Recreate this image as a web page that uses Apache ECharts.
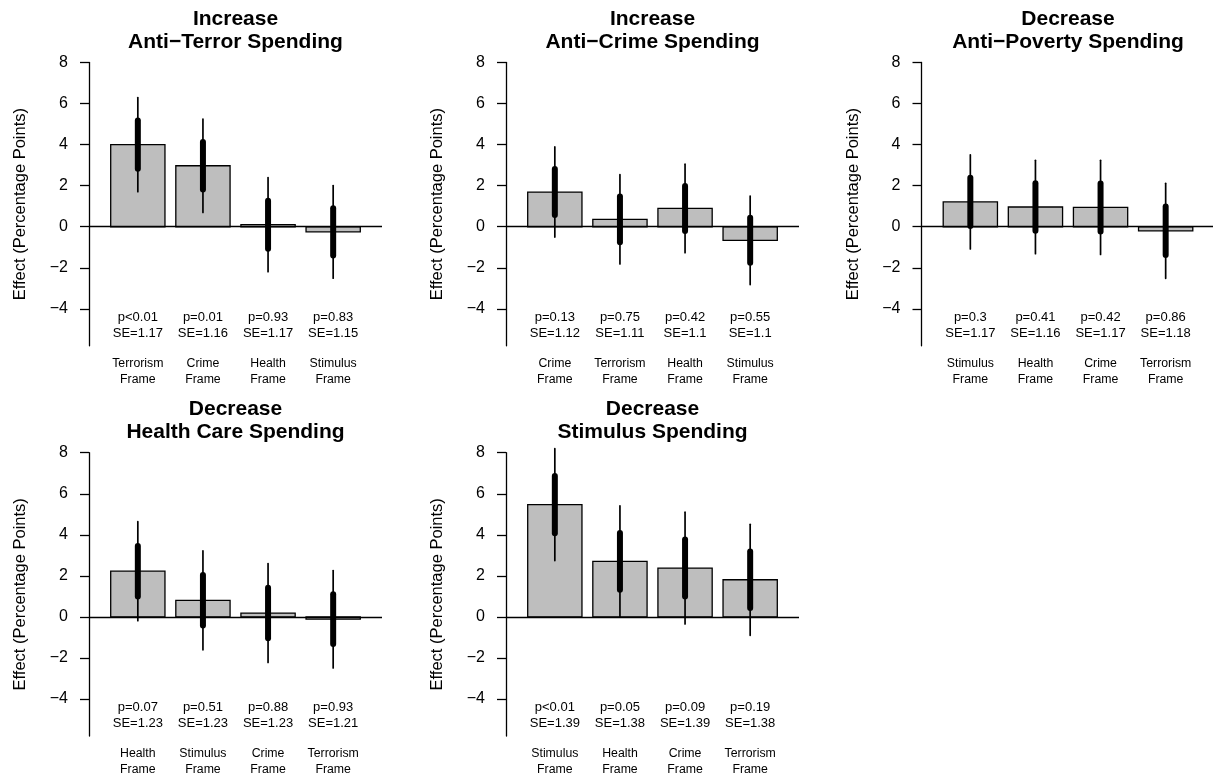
<!DOCTYPE html>
<html>
<head>
<meta charset="utf-8">
<title>Framing effects on spending preferences</title>
<script src="https://cdn.jsdelivr.net/npm/echarts@6/dist/echarts.min.js"></script>
<style>
  html, body { margin: 0; padding: 0; background: #fff; }
  #chart { width: 1213px; height: 777px; }
</style>
</head>
<body>
<div id="chart"></div>
<script>
// ---- Data: one block per outcome panel ----
const titles = [
  'Increase\nAnti\u2212Terror Spending',
  'Increase\nAnti\u2212Crime Spending',
  'Decrease\nAnti\u2212Poverty Spending',
  'Decrease\nHealth Care Spending',
  'Decrease\nStimulus Spending'
];

const framesTerror  = ['Terrorism', 'Crime', 'Health', 'Stimulus'];
const effectTerror  = [4.00, 2.97, 0.10, -0.25];
const seTerror      = [1.17, 1.16, 1.17, 1.15];
const pTerror       = ['<0.01', '0.01', '0.93', '0.83'];

const framesCrime   = ['Crime', 'Terrorism', 'Health', 'Stimulus'];
const effectCrime   = [1.69, 0.36, 0.89, -0.66];
const seCrime       = [1.12, 1.11, 1.1, 1.1];
const pCrime        = ['0.13', '0.75', '0.42', '0.55'];

const framesPoverty = ['Stimulus', 'Health', 'Crime', 'Terrorism'];
const effectPoverty = [1.21, 0.96, 0.94, -0.20];
const sePoverty     = [1.17, 1.16, 1.17, 1.18];
const pPoverty      = ['0.3', '0.41', '0.42', '0.86'];

const framesHealth  = ['Health', 'Stimulus', 'Crime', 'Terrorism'];
const effectHealth  = [2.23, 0.81, 0.19, -0.11];
const seHealth      = [1.23, 1.23, 1.23, 1.21];
const pHealth       = ['0.07', '0.51', '0.88', '0.93'];

const framesStim    = ['Stimulus', 'Health', 'Crime', 'Terrorism'];
const effectStim    = [5.47, 2.71, 2.38, 1.81];
const seStim        = [1.39, 1.38, 1.39, 1.38];
const pStim         = ['<0.01', '0.05', '0.09', '0.19'];

const yTicks = [-4, -2, 0, 2, 4, 6, 8];

const panels = [
  { frames: framesTerror,  effect: effectTerror,  se: seTerror,  p: pTerror },
  { frames: framesCrime,   effect: effectCrime,   se: seCrime,   p: pCrime },
  { frames: framesPoverty, effect: effectPoverty, se: sePoverty, p: pPoverty },
  { frames: framesHealth,  effect: effectHealth,  se: seHealth,  p: pHealth },
  { frames: framesStim,    effect: effectStim,    se: seStim,    p: pStim }
];

// ---- Layout ----
const FONT = "'Liberation Sans', Arial, Helvetica, sans-serif";
const gridLeft = [89, 506, 921.5, 89, 506];
const gridTop  = [62.5, 62.5, 62.5, 452.7, 452.7];
const gridW = 293, gridH = 283.3;
const Y_MIN = -5.8, Y_MAX = 8;
const X_MIN = -0.2, X_MAX = 5.2;
const barCenter = i => 0.7 + 1.2 * i;   // bar width 1, gap 0.2
const STATS_Y = -4.8;                   // vertical anchor for p / SE text

const fmtTick = v => (v < 0 ? '\u2212' + (-v) : String(v));

const option = {
  animation: false,
  backgroundColor: '#fff',
  title: [], grid: [], xAxis: [], yAxis: [], series: []
};

panels.forEach((pn, k) => {
  const left = gridLeft[k], top = gridTop[k];
  option.title.push({
    text: titles[k],
    left: left + gridW / 2,
    top: top - 55,
    textAlign: 'center',
    padding: 0,
    textStyle: { fontFamily: FONT, fontSize: 21, fontWeight: 'bold', color: '#000', lineHeight: 23 }
  });
  option.grid.push({
    left: left, top: top, width: gridW, height: gridH,
    containLabel: false, outerBoundsMode: 'none'
  });
  const centers = pn.frames.map((_, i) => barCenter(i));
  option.xAxis.push({
    type: 'value', gridIndex: k, min: X_MIN, max: X_MAX,
    axisLine: { show: false, onZero: false },
    axisTick: { show: false },
    splitLine: { show: false },
    axisLabel: {
      customValues: centers,
      margin: 10,
      fontFamily: FONT, fontSize: 12.3, lineHeight: 16, color: '#000',
      formatter: v => pn.frames[Math.round((v - 0.7) / 1.2)] + '\nFrame'
    }
  });
  option.yAxis.push({
    type: 'value', gridIndex: k, min: Y_MIN, max: Y_MAX,
    name: 'Effect (Percentage Points)',
    nameLocation: 'middle', nameRotate: 90, nameGap: 60,
    nameTextStyle: { fontFamily: FONT, fontSize: 16.5, color: '#000' },
    axisLine: { show: true, onZero: false, lineStyle: { color: '#000', width: 1.3 } },
    axisTick: { show: true, customValues: yTicks, length: 9, lineStyle: { color: '#000', width: 1.3 } },
    axisLabel: {
      customValues: yTicks, margin: 21,
      fontFamily: FONT, fontSize: 16, color: '#000',
      formatter: fmtTick
    },
    splitLine: { show: false }
  });
  option.series.push({
    type: 'custom',
    xAxisIndex: k, yAxisIndex: k,
    clip: false,
    data: pn.effect.map((e, i) => [barCenter(i), e, pn.se[i], i]),
    renderItem: (params, api) => {
      const xc = api.value(0), est = api.value(1), se = api.value(2);
      const i = api.value(3);
      const p0 = api.coord([xc - 0.5, est]);
      const p1 = api.coord([xc + 0.5, 0]);
      const lo95 = api.coord([xc, est - 1.96 * se]);
      const hi95 = api.coord([xc, est + 1.96 * se]);
      const lo68 = api.coord([xc, est - se]);
      const hi68 = api.coord([xc, est + se]);
      const txt = api.coord([xc, STATS_Y]);
      const pStr = pn.p[i];
      const pLabel = 'p' + (pStr.charAt(0) === '<' ? pStr : '=' + pStr);
      return {
        type: 'group',
        children: [
          {
            type: 'rect',
            shape: {
              x: p0[0], y: Math.min(p0[1], p1[1]),
              width: p1[0] - p0[0], height: Math.abs(p1[1] - p0[1])
            },
            style: { fill: '#bebebe', stroke: '#000', lineWidth: 1.3 }
          },
          {
            type: 'line',
            shape: { x1: lo95[0], y1: lo95[1], x2: hi95[0], y2: hi95[1] },
            style: { stroke: '#000', lineWidth: 1.7, lineCap: 'round' }
          },
          {
            type: 'line',
            shape: { x1: lo68[0], y1: lo68[1], x2: hi68[0], y2: hi68[1] },
            style: { stroke: '#000', lineWidth: 6, lineCap: 'round' }
          },
          {
            type: 'text',
            style: {
              text: pLabel + '\nSE=' + se,
              x: txt[0], y: txt[1],
              align: 'center', verticalAlign: 'middle',
              fontFamily: FONT, fontSize: 13, lineHeight: 16,
              fill: '#000'
            }
          }
        ]
      };
    },
    markLine: {
      silent: true,
      symbol: ['none', 'none'],
      label: { show: false },
      lineStyle: { color: '#000', width: 1.3, type: 'solid' },
      data: [{ yAxis: 0 }]
    },
    z: 2
  });
});

const chart = echarts.init(document.getElementById('chart'), null, { renderer: 'canvas' });
chart.setOption(option);
</script>
</body>
</html>
